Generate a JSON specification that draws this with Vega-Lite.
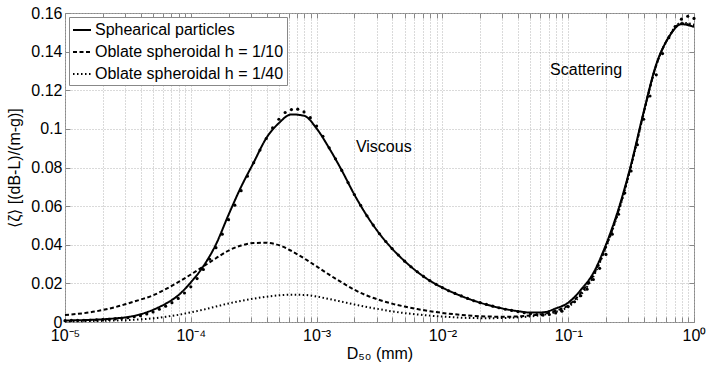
{
  "$schema": "https://vega.github.io/schema/vega-lite/v6.json",
  "width": 629,
  "height": 309,
  "autosize": {"type": "none"},
  "padding": {"left": 65, "top": 13, "right": 31, "bottom": 47},
  "config": {
    "font": "Liberation Sans",
    "view": {"stroke": "#888", "strokeWidth": 1},
    "axis": {
      "domain": false,
      "tickSize": -5,
      "tickColor": "#888",
      "labelFontSize": 16,
      "labelColor": "#000",
      "labelFlush": false,
      "labelOverlap": false,
      "titleFontSize": 16,
      "titleFontWeight": "normal",
      "titleColor": "#000"
    },
    "legend": {
      "orient": "top-left",
      "offset": 4,
      "strokeColor": "#888",
      "fillColor": "white",
      "padding": 3,
      "symbolType": "stroke",
      "symbolSize": 324,
      "symbolStrokeWidth": 2,
      "symbolStrokeColor": "#000",
      "labelFontSize": 16,
      "labelColor": "#000",
      "labelOffset": 3,
      "rowPadding": 4,
      "labelLimit": 300
    }
  },
  "resolve": {"axis": {"x": "independent", "y": "independent"}},
  "datasets": {
    "curves": [
      {"d": 1e-5, "a": 0.0008, "b": 0.0036, "c": 0.0003},
      {"d": 1.259e-5, "a": 0.0009, "b": 0.0042, "c": 0.0004},
      {"d": 1.585e-5, "a": 0.0011, "b": 0.0050, "c": 0.0005},
      {"d": 1.995e-5, "a": 0.0014, "b": 0.0062, "c": 0.0006},
      {"d": 2.512e-5, "a": 0.0019, "b": 0.0077, "c": 0.0008},
      {"d": 3.162e-5, "a": 0.0026, "b": 0.0096, "c": 0.0010},
      {"d": 3.981e-5, "a": 0.0040, "b": 0.0116, "c": 0.0014},
      {"d": 5.012e-5, "a": 0.0063, "b": 0.0138, "c": 0.0019},
      {"d": 6.31e-5, "a": 0.0095, "b": 0.0170, "c": 0.0027},
      {"d": 7.943e-5, "a": 0.0138, "b": 0.0206, "c": 0.0037},
      {"d": 1e-4, "a": 0.0205, "b": 0.0246, "c": 0.0050},
      {"d": 1.259e-4, "a": 0.0289, "b": 0.0288, "c": 0.0064},
      {"d": 1.585e-4, "a": 0.0402, "b": 0.0330, "c": 0.0080},
      {"d": 1.995e-4, "a": 0.0555, "b": 0.0370, "c": 0.0096},
      {"d": 2.512e-4, "a": 0.0700, "b": 0.0396, "c": 0.0109},
      {"d": 3.162e-4, "a": 0.0826, "b": 0.0409, "c": 0.0121},
      {"d": 3.981e-4, "a": 0.0952, "b": 0.0410, "c": 0.0131},
      {"d": 5.012e-4, "a": 0.1030, "b": 0.0398, "c": 0.0138},
      {"d": 6.31e-4, "a": 0.1075, "b": 0.0368, "c": 0.0141},
      {"d": 7.943e-4, "a": 0.1068, "b": 0.0330, "c": 0.0140},
      {"d": 1e-3, "a": 0.1002, "b": 0.0288, "c": 0.0132},
      {"d": 1.259e-3, "a": 0.0900, "b": 0.0245, "c": 0.0119},
      {"d": 1.585e-3, "a": 0.0785, "b": 0.0205, "c": 0.0105},
      {"d": 1.995e-3, "a": 0.0660, "b": 0.0167, "c": 0.0091},
      {"d": 2.512e-3, "a": 0.0550, "b": 0.0137, "c": 0.0078},
      {"d": 3.162e-3, "a": 0.0457, "b": 0.0114, "c": 0.0066},
      {"d": 3.981e-3, "a": 0.0380, "b": 0.0095, "c": 0.0055},
      {"d": 5.012e-3, "a": 0.0315, "b": 0.0080, "c": 0.0046},
      {"d": 6.31e-3, "a": 0.0260, "b": 0.0067, "c": 0.0039},
      {"d": 7.943e-3, "a": 0.0214, "b": 0.0056, "c": 0.0033},
      {"d": 1e-2, "a": 0.0178, "b": 0.0047, "c": 0.0028},
      {"d": 1.259e-2, "a": 0.0148, "b": 0.0040, "c": 0.0024},
      {"d": 1.585e-2, "a": 0.0122, "b": 0.0034, "c": 0.0021},
      {"d": 1.995e-2, "a": 0.0100, "b": 0.0030, "c": 0.0020},
      {"d": 2.512e-2, "a": 0.0082, "b": 0.0028, "c": 0.0020},
      {"d": 3.162e-2, "a": 0.0067, "b": 0.0027, "c": 0.0021},
      {"d": 3.981e-2, "a": 0.0056, "b": 0.0029, "c": 0.0024},
      {"d": 5.012e-2, "a": 0.0049, "b": 0.0034, "c": 0.0029},
      {"d": 6.31e-2, "a": 0.0050, "b": 0.0042, "c": 0.0037},
      {"d": 7.943e-2, "a": 0.0070, "b": 0.0058, "c": 0.0052},
      {"d": 0.1, "a": 0.0100, "b": 0.0086, "c": 0.0078},
      {"d": 0.1259, "a": 0.0166, "b": 0.0150, "c": 0.0140},
      {"d": 0.1585, "a": 0.0254, "b": 0.0242, "c": 0.0235},
      {"d": 0.1995, "a": 0.0400, "b": 0.0390, "c": 0.0385},
      {"d": 0.2512, "a": 0.0585, "b": 0.0576, "c": 0.0570},
      {"d": 0.3162, "a": 0.0816, "b": 0.0810, "c": 0.0805},
      {"d": 0.3981, "a": 0.1088, "b": 0.1083, "c": 0.1080},
      {"d": 0.5012, "a": 0.1334, "b": 0.1330, "c": 0.1328},
      {"d": 0.631, "a": 0.1475, "b": 0.1476, "c": 0.1478},
      {"d": 0.7943, "a": 0.1542, "b": 0.1546, "c": 0.1550},
      {"d": 1, "a": 0.1528, "b": 0.1534, "c": 0.1540}
    ],
    "dots": [
      {"d": 1e-5, "z": 0.0007}, {"d": 1.122e-5, "z": 0.0008}, {"d": 1.259e-5, "z": 0.0008}, {"d": 1.413e-5, "z": 0.0009},
      {"d": 1.585e-5, "z": 0.0010}, {"d": 1.778e-5, "z": 0.0011}, {"d": 1.995e-5, "z": 0.0012}, {"d": 2.239e-5, "z": 0.0014},
      {"d": 2.512e-5, "z": 0.0016}, {"d": 2.818e-5, "z": 0.0019}, {"d": 3.162e-5, "z": 0.0022}, {"d": 3.548e-5, "z": 0.0027},
      {"d": 3.981e-5, "z": 0.0033}, {"d": 4.467e-5, "z": 0.0042}, {"d": 5.012e-5, "z": 0.0052}, {"d": 5.623e-5, "z": 0.0066},
      {"d": 6.31e-5, "z": 0.0082}, {"d": 7.079e-5, "z": 0.0100}, {"d": 7.943e-5, "z": 0.0122}, {"d": 8.913e-5, "z": 0.0150},
      {"d": 1e-4, "z": 0.0182}, {"d": 1.122e-4, "z": 0.0225}, {"d": 1.259e-4, "z": 0.0272}, {"d": 1.413e-4, "z": 0.0325},
      {"d": 1.585e-4, "z": 0.0385}, {"d": 1.778e-4, "z": 0.0455}, {"d": 1.995e-4, "z": 0.0530}, {"d": 2.239e-4, "z": 0.0605},
      {"d": 2.512e-4, "z": 0.0680}, {"d": 2.818e-4, "z": 0.0755}, {"d": 3.162e-4, "z": 0.0825}, {"d": 3.548e-4, "z": 0.0890},
      {"d": 3.981e-4, "z": 0.0950}, {"d": 4.467e-4, "z": 0.1005}, {"d": 5.012e-4, "z": 0.1050}, {"d": 5.623e-4, "z": 0.1085},
      {"d": 6.31e-4, "z": 0.1100}, {"d": 7.079e-4, "z": 0.1102}, {"d": 7.943e-4, "z": 0.1088}, {"d": 8.913e-4, "z": 0.1058},
      {"d": 1e-3, "z": 0.1015}, {"d": 1.122e-3, "z": 0.0962}, {"d": 1.259e-3, "z": 0.0902}, {"d": 1.413e-3, "z": 0.0845},
      {"d": 1.585e-3, "z": 0.0785}, {"d": 1.778e-3, "z": 0.0722}, {"d": 1.995e-3, "z": 0.0660}, {"d": 2.239e-3, "z": 0.0604},
      {"d": 2.512e-3, "z": 0.0550}, {"d": 2.818e-3, "z": 0.0502}, {"d": 3.162e-3, "z": 0.0457}, {"d": 3.548e-3, "z": 0.0417},
      {"d": 3.981e-3, "z": 0.0380}, {"d": 4.467e-3, "z": 0.0347}, {"d": 5.012e-3, "z": 0.0315}, {"d": 5.623e-3, "z": 0.0286},
      {"d": 6.31e-3, "z": 0.0260}, {"d": 7.079e-3, "z": 0.0236}, {"d": 7.943e-3, "z": 0.0214}, {"d": 8.913e-3, "z": 0.0195},
      {"d": 1e-2, "z": 0.0178}, {"d": 1.122e-2, "z": 0.0162}, {"d": 1.259e-2, "z": 0.0148}, {"d": 1.413e-2, "z": 0.0135},
      {"d": 1.585e-2, "z": 0.0122}, {"d": 1.778e-2, "z": 0.0110}, {"d": 1.995e-2, "z": 0.0100}, {"d": 2.239e-2, "z": 0.0091},
      {"d": 2.512e-2, "z": 0.0082}, {"d": 2.818e-2, "z": 0.0074}, {"d": 3.162e-2, "z": 0.0066}, {"d": 3.548e-2, "z": 0.0060},
      {"d": 3.981e-2, "z": 0.0054}, {"d": 4.467e-2, "z": 0.0048}, {"d": 5.012e-2, "z": 0.0043}, {"d": 5.623e-2, "z": 0.0039},
      {"d": 6.31e-2, "z": 0.0036}, {"d": 7.079e-2, "z": 0.0039}, {"d": 7.943e-2, "z": 0.0047}, {"d": 8.913e-2, "z": 0.0056},
      {"d": 0.1, "z": 0.0080}, {"d": 0.1122, "z": 0.0105}, {"d": 0.1259, "z": 0.0136}, {"d": 0.1413, "z": 0.0170},
      {"d": 0.1585, "z": 0.0220}, {"d": 0.1778, "z": 0.0278}, {"d": 0.1995, "z": 0.0350}, {"d": 0.2239, "z": 0.0455},
      {"d": 0.2512, "z": 0.0558}, {"d": 0.2818, "z": 0.0668}, {"d": 0.3162, "z": 0.0782}, {"d": 0.3548, "z": 0.0918},
      {"d": 0.3981, "z": 0.1050}, {"d": 0.4467, "z": 0.1170}, {"d": 0.5012, "z": 0.1280}, {"d": 0.5623, "z": 0.1390},
      {"d": 0.631, "z": 0.1472}, {"d": 0.7079, "z": 0.1530}, {"d": 0.7943, "z": 0.1568}, {"d": 0.8913, "z": 0.1583},
      {"d": 1, "z": 0.1572}
    ],
    "notes": [
      {"d": 0.00342, "z": 0.0905, "t": "Viscous"},
      {"d": 0.1387, "z": 0.1305, "t": "Scattering"}
    ]
  },
  "layer": [
    {
      "data": {"name": "curves"},
      "transform": [{"fold": ["a", "b", "c"], "as": ["s", "z"]}],
      "mark": {"type": "line", "color": "#000", "strokeWidth": 2, "interpolate": "monotone"},
      "encoding": {
        "x": {
          "field": "d",
          "type": "quantitative",
          "scale": {"type": "log", "domain": [1e-5, 1], "nice": false},
          "axis": {
            "title": "D₅₀ (mm)",
            "values": [1e-5, 2e-5, 3e-5, 4e-5, 5e-5, 6e-5, 7e-5, 8e-5, 9e-5,
                       1e-4, 2e-4, 3e-4, 4e-4, 5e-4, 6e-4, 7e-4, 8e-4, 9e-4,
                       1e-3, 2e-3, 3e-3, 4e-3, 5e-3, 6e-3, 7e-3, 8e-3, 9e-3,
                       1e-2, 2e-2, 3e-2, 4e-2, 5e-2, 6e-2, 7e-2, 8e-2, 9e-2,
                       0.1, 0.2, 0.3, 0.4, 0.5, 0.6, 0.7, 0.8, 0.9, 1],
            "labelExpr": "abs(log(datum.value)/LN10 - round(log(datum.value)/LN10)) > 0.001 ? '' : '10' + ['⁻⁵','⁻⁴','⁻³','⁻²','⁻¹','⁰'][round(log(datum.value)/LN10) + 5]",
            "labelPadding": 10,
            "titlePadding": 2,
            "grid": true,
            "gridColor": "#b4b4b4",
            "gridDash": [1, 2],
            "gridWidth": 1
          }
        },
        "y": {
          "field": "z",
          "type": "quantitative",
          "scale": {"domain": [0, 0.16], "nice": false},
          "axis": {
            "title": "⟨ζ⟩ [(dB-L)/(m-g)]",
            "values": [0, 0.02, 0.04, 0.06, 0.08, 0.1, 0.12, 0.14, 0.16],
            "format": "~g",
            "labelPadding": 8,
            "titlePadding": 8,
            "grid": true,
            "gridColor": "#b4b4b4",
            "gridDash": [1, 2],
            "gridWidth": 1
          }
        },
        "strokeDash": {
          "field": "s",
          "type": "nominal",
          "scale": {"domain": ["a", "b", "c"], "range": [[1, 0], [4, 2.5], [1.5, 2.5]]},
          "legend": {
            "title": null,
            "labelExpr": "datum.value == 'a' ? 'Sphearical particles' : datum.value == 'b' ? 'Oblate spheroidal h = 1/10' : 'Oblate spheroidal h = 1/40'"
          }
        }
      }
    },
    {
      "data": {"name": "dots"},
      "mark": {"type": "circle", "size": 10, "color": "#000", "opacity": 1},
      "encoding": {
        "x": {"field": "d", "type": "quantitative", "axis": null},
        "y": {"field": "z", "type": "quantitative", "axis": null}
      }
    },
    {
      "data": {"name": "notes"},
      "mark": {"type": "text", "fontSize": 16, "align": "center", "baseline": "middle", "color": "#000"},
      "encoding": {
        "x": {
          "field": "d",
          "type": "quantitative",
          "axis": {
            "orient": "top",
            "title": null,
            "labels": false,
            "grid": false,
            "values": [1e-5, 2e-5, 3e-5, 4e-5, 5e-5, 6e-5, 7e-5, 8e-5, 9e-5,
                       1e-4, 2e-4, 3e-4, 4e-4, 5e-4, 6e-4, 7e-4, 8e-4, 9e-4,
                       1e-3, 2e-3, 3e-3, 4e-3, 5e-3, 6e-3, 7e-3, 8e-3, 9e-3,
                       1e-2, 2e-2, 3e-2, 4e-2, 5e-2, 6e-2, 7e-2, 8e-2, 9e-2,
                       0.1, 0.2, 0.3, 0.4, 0.5, 0.6, 0.7, 0.8, 0.9, 1]
          }
        },
        "y": {
          "field": "z",
          "type": "quantitative",
          "axis": {
            "orient": "right",
            "title": null,
            "labels": false,
            "grid": false,
            "values": [0, 0.02, 0.04, 0.06, 0.08, 0.1, 0.12, 0.14, 0.16]
          }
        },
        "text": {"field": "t"}
      }
    }
  ]
}
